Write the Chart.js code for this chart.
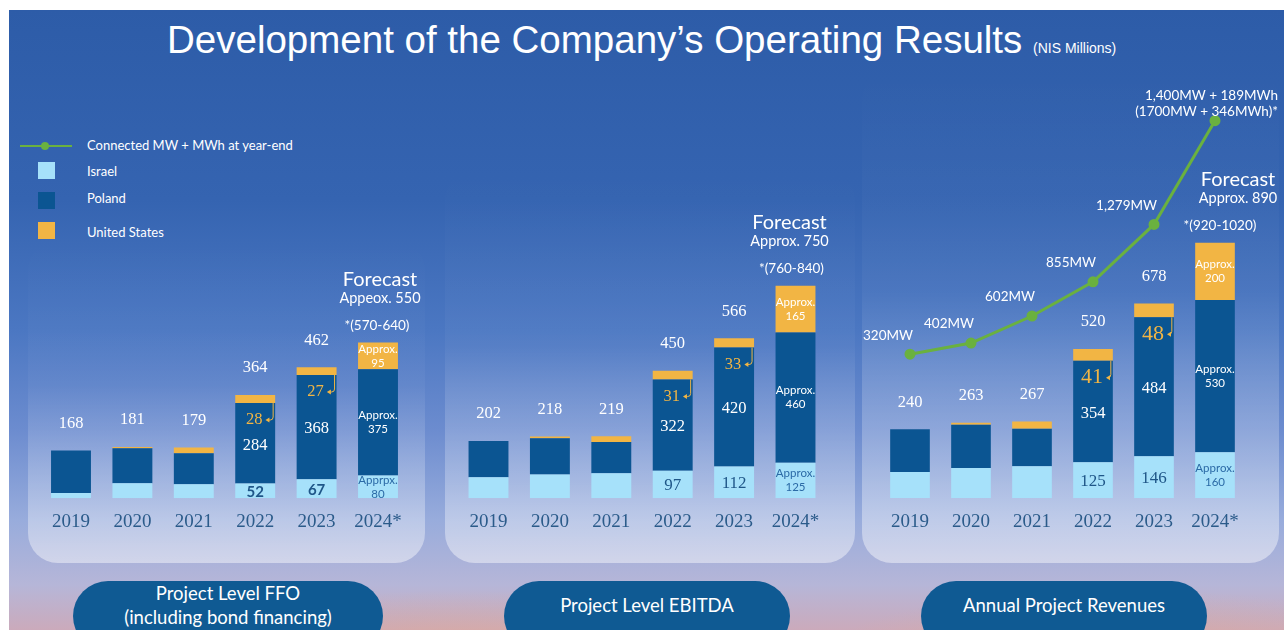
<!DOCTYPE html>
<html>
<head>
<meta charset="utf-8">
<script src="https://cdn.jsdelivr.net/npm/chart.js@4.4.1/dist/chart.umd.min.js"></script>
<style>
  html, body { margin: 0; padding: 0; background: #fff; }
  #stage { position: relative; width: 1284px; height: 630px; overflow: hidden; background: #fff; font-family: Lato, "Open Sans", sans-serif; }
  #sky {
    position: absolute; left: 9px; top: 10px; width: 1275px; height: 620px;
    background:
      radial-gradient(ellipse 260px 60px at 450px 640px, rgba(235,170,130,0.45), rgba(235,170,130,0)),
      radial-gradient(ellipse 300px 60px at 1120px 640px, rgba(235,170,130,0.40), rgba(235,170,130,0)),
      linear-gradient(to bottom, #2d5ca8 0px, #3564b1 190px, #4b77c2 320px, #6c8ccf 420px, #98acdc 510px, #b6b6d8 575px, #cbaabb 620px);
  }
  .panel {
    position: absolute; border-radius: 30px;
    background: linear-gradient(to bottom, rgba(255,255,255,0) 0%, rgba(255,255,255,0.04) 45%, rgba(255,255,255,0.28) 80%, rgba(255,255,255,0.45) 100%);
  }
  #title { position: absolute; left: 167px; top: 18px; color: #fff; font-family: "Liberation Sans", Arial, sans-serif; font-size: 38.5px; white-space: nowrap; }
  #title small { font-size: 14px; }
  .legtxt { position: absolute; left: 87px; color: #fff; font-size: 13px; white-space: nowrap; }
  .legbox { position: absolute; left: 38px; width: 17px; height: 17px; }
  .pill {
    position: absolute; top: 581px; height: 70px; border-radius: 35px; background: #0f5a93;
    color: #fff; font-size: 18.5px; text-align: center; line-height: 24px; box-sizing: border-box;
  }
  .chartbox { position: absolute; top: 60px; height: 490px; }
</style>
</head>
<body>
<div id="stage">
  <div id="sky"></div>
  <div class="panel" style="left:28px; top:240px; width:397px; height:323px;"></div>
  <div class="panel" style="left:445px; top:170px; width:410px; height:393px;"></div>
  <div class="panel" style="left:862px; top:70px; width:417px; height:493px;"></div>

  <div id="title">Development of the Company’s Operating Results <small>(NIS Millions)</small></div>

  <svg style="position:absolute; left:18px; top:140px;" width="56" height="12">
    <line x1="2" y1="6" x2="54" y2="6" stroke="#6ab13f" stroke-width="2"/>
    <circle cx="27" cy="6" r="4" fill="#6ab13f"/>
  </svg>
  <div class="legtxt" style="top:137px;">Connected MW + MWh at year-end</div>
  <div class="legbox" style="top:162px; background:#a6e1fa;"></div>
  <div class="legtxt" style="top:163px;">Israel</div>
  <div class="legbox" style="top:192px; background:#0b5592;"></div>
  <div class="legtxt" style="top:190px;">Poland</div>
  <div class="legbox" style="top:222px; background:#f2b544;"></div>
  <div class="legtxt" style="top:224px;">United States</div>

  <div class="chartbox" style="left:0px; width:440px;"><canvas id="ffo" width="440" height="490"></canvas></div>
  <div class="chartbox" style="left:440px; width:420px;"><canvas id="ebitda" width="420" height="490"></canvas></div>
  <div class="chartbox" style="left:850px; width:434px;"><canvas id="rev" width="434" height="490"></canvas></div>

  <div class="pill" style="left:73px; width:310px; padding-top:0px;">Project Level FFO<br>(including bond financing)</div>
  <div class="pill" style="left:504px; width:286px; padding-top:12px;">Project Level EBITDA</div>
  <div class="pill" style="left:921px; width:286px; padding-top:12px;">Annual Project Revenues</div>
</div>

<script>
const years = ['2019', '2020', '2021', '2022', '2023', '2024*'];

// Project Level FFO
const ffoIsrael = [18, 53, 49, 52, 67, 80];
const ffoPoland = [150, 123, 110, 284, 368, 375];
const ffoUS = [0, 5, 20, 28, 27, 95];
const ffoTotals = ['168', '181', '179', '364', '462', null];
const ffoIsraelLabels = [null, null, null, '52', '67', 'Apprpx.\n80'];
const ffoPolandLabels = [null, null, null, '284', '368', 'Approx.\n375'];
const ffoUSLabels = [null, null, null, '28', '27', 'Approx.\n95'];
const ffoForecast = ['Forecast', 'Appeox. 550', '*(570-640)'];

// Project Level EBITDA
const ebitdaIsrael = [74, 84, 88, 97, 112, 125];
const ebitdaPoland = [128, 128, 110, 322, 420, 460];
const ebitdaUS = [0, 6, 21, 31, 33, 165];
const ebitdaTotals = ['202', '218', '219', '450', '566', null];
const ebitdaIsraelLabels = [null, null, null, '97', '112', 'Approx.\n125'];
const ebitdaPolandLabels = [null, null, null, '322', '420', 'Approx.\n460'];
const ebitdaUSLabels = [null, null, null, '31', '33', 'Approx.\n165'];
const ebitdaForecast = ['Forecast', 'Approx. 750', '*(760-840)'];

// Annual Project Revenues
const revIsrael = [91, 105, 111, 125, 146, 160];
const revPoland = [149, 151, 131, 354, 484, 530];
const revUS = [0, 7, 25, 41, 48, 200];
const revTotals = ['240', '263', '267', '520', '678', null];
const revIsraelLabels = [null, null, null, '125', '146', 'Approx.\n160'];
const revPolandLabels = [null, null, null, '354', '484', 'Approx.\n530'];
const revUSLabels = [null, null, null, '41', '48', 'Approx.\n200'];
const revForecast = ['Forecast', 'Approx. 890', '*(920-1020)'];

// Connected MW + MWh at year-end
const connected = [320, 402, 602, 855, 1279, 2046];
const connectedLabels = ['320MW', '402MW', '602MW', '855MW', '1,279MW', '1,400MW + 189MWh\n(1700MW + 346MWh)*'];

const LIGHT = '#a6e1fa', DARK = '#0b5592', ORANGE = '#f2b544', GREEN = '#6ab13f';
const SERIF = '"Liberation Serif", "Times New Roman", serif';
const SANS = 'Lato, "Open Sans", sans-serif';

function multi(ctx, text, x, y, lh) {
  const lines = text.split('\n');
  lines.forEach((ln, k) => ctx.fillText(ln, x, y + (k - (lines.length - 1) / 2) * lh));
}

const barLabels = {
  id: 'barLabels',
  afterDatasetsDraw(chart, args, o) {
    const ctx = chart.ctx;
    const mI = chart.getDatasetMeta(0), mP = chart.getDatasetMeta(1), mU = chart.getDatasetMeta(2);
    ctx.save();
    ctx.textAlign = 'center';
    ctx.textBaseline = 'middle';
    mI.data.forEach((bI, i) => {
      const bP = mP.data[i], bU = mU.data[i];
      const x = bI.x;
      const top = Math.min(bU.y, bU.base);
      if (o.totals[i]) {
        ctx.font = '16.5px ' + SERIF; ctx.fillStyle = '#fff';
        ctx.fillText(o.totals[i], x, top - 27);
      }
      const li = o.israel[i];
      if (li) {
        const cy = (bI.y + bI.base) / 2;
        if (li.includes('\n')) { ctx.font = '11.5px ' + SANS; ctx.fillStyle = '#2b6aa6'; multi(ctx, li, x, cy, 14); }
        else { ctx.font = o.israelFont; ctx.fillStyle = '#1f5688'; ctx.fillText(li, x, cy + 1); }
      }
      const lp = o.poland[i];
      if (lp) {
        const cy = (bP.y + bP.base) / 2;
        if (lp.includes('\n')) { ctx.font = '11.5px ' + SANS; ctx.fillStyle = '#fff'; multi(ctx, lp, x, cy, 14); }
        else { ctx.font = '16.5px ' + SERIF; ctx.fillStyle = '#fff'; ctx.fillText(lp, x, cy + 2); }
      }
      const lu = o.us[i];
      if (lu) {
        if (lu.includes('\n')) {
          ctx.font = '11.5px ' + SANS; ctx.fillStyle = '#fff';
          multi(ctx, lu, x, (bU.y + bU.base) / 2, 14);
        } else {
          const yP = bP.y;
          const ly = yP + 17;
          const tx = x - 1;
          ctx.font = o.usFont; ctx.fillStyle = ORANGE;
          ctx.fillText(lu, tx, ly);
          const w = ctx.measureText(lu).width;
          const rx = x + bI.width / 2 - 2;
          const ax = tx + w / 2 + 3;
          ctx.strokeStyle = ORANGE; ctx.lineWidth = 1;
          ctx.beginPath();
          ctx.moveTo(rx, yP); ctx.lineTo(rx, ly - 3);
          ctx.quadraticCurveTo(rx, ly, rx - 3, ly);
          ctx.lineTo(ax + 3, ly);
          ctx.stroke();
          ctx.beginPath();
          ctx.moveTo(ax, ly); ctx.lineTo(ax + 4, ly - 2.5); ctx.lineTo(ax + 4, ly + 2.5); ctx.closePath();
          ctx.fill();
        }
      }
    });
    // forecast block over the last bar
    const last = mI.data.length - 1;
    const fx = mI.data[last].x + o.forecastShift[0];
    const ftop = Math.min(mU.data[last].y, mU.data[last].base);
    ctx.fillStyle = '#fff';
    ctx.font = '20px ' + SANS; ctx.fillText(o.forecast[0], fx, ftop - 63);
    ctx.font = '14.5px ' + SANS; ctx.fillText(o.forecast[1], fx, ftop - 44);
    ctx.font = '13.5px ' + SANS; ctx.fillText(o.forecast[2], mI.data[last].x + o.forecastShift[1], ftop - 17);
    // connected capacity labels
    if (o.lineLabels) {
      const mL = chart.getDatasetMeta(3);
      ctx.font = '13.5px ' + SANS; ctx.fillStyle = '#fff'; ctx.textAlign = 'right';
      mL.data.forEach((pt, i) => {
        const t = o.lineLabels[i];
        if (i < mL.data.length - 1) ctx.fillText(t, pt.x + 3, pt.y - 19);
        else multi(ctx, t, pt.x + 63, pt.y - 17, 16);
      });
    }
    ctx.restore();
  }
};

function makeChart(id, d) {
  const datasets = [
    { label: 'Israel', data: d.israel, backgroundColor: LIGHT, stack: 's', order: 1 },
    { label: 'Poland', data: d.poland, backgroundColor: DARK, stack: 's', order: 1 },
    { label: 'United States', data: d.us, backgroundColor: ORANGE, stack: 's', order: 1 }
  ];
  const scales = {
    x: {
      stacked: true,
      grid: { display: false, drawTicks: false },
      border: { display: false },
      ticks: { color: '#2b5b8a', font: { family: SERIF, size: 19 }, padding: 12 }
    },
    y: { stacked: true, display: false, min: 0, max: d.yMax }
  };
  if (d.line) {
    datasets.push({
      type: 'line', label: 'Connected MW + MWh at year-end', data: d.line, yAxisID: 'y1', order: 0,
      borderColor: GREEN, backgroundColor: GREEN, borderWidth: 3, pointRadius: 4, pointHoverRadius: 4, tension: 0
    });
    scales.y1 = { display: false, min: -745, max: 2199 };
  }
  return new Chart(document.getElementById(id), {
    type: 'bar',
    data: { labels: years, datasets: datasets },
    options: {
      responsive: false,
      animation: false,
      devicePixelRatio: 1,
      layout: { padding: { left: d.pad[0], right: d.pad[1], top: 40, bottom: 5 } },
      datasets: { bar: { categoryPercentage: 1, barPercentage: 0.65 } },
      scales: scales,
      plugins: {
        legend: { display: false },
        tooltip: { enabled: false },
        barLabels: {
          totals: d.totals, israel: d.israelLabels, poland: d.polandLabels, us: d.usLabels,
          forecast: d.forecast, forecastShift: d.forecastShift,
          israelFont: d.israelFont, usFont: d.usFont, lineLabels: d.lineLabels
        }
      }
    },
    plugins: [barLabels]
  });
}

makeChart('ffo', {
  israel: ffoIsrael, poland: ffoPoland, us: ffoUS, totals: ffoTotals,
  israelLabels: ffoIsraelLabels, polandLabels: ffoPolandLabels, usLabels: ffoUSLabels,
  forecast: ffoForecast, forecastShift: [2, -1], yMax: 1406, pad: [40.3, 31.3],
  israelFont: 'bold 15px ' + SANS, usFont: '16.5px ' + SERIF
});
makeChart('ebitda', {
  israel: ebitdaIsrael, poland: ebitdaPoland, us: ebitdaUS, totals: ebitdaTotals,
  israelLabels: ebitdaIsraelLabels, polandLabels: ebitdaPolandLabels, usLabels: ebitdaUSLabels,
  forecast: ebitdaForecast, forecastShift: [-6, -4], yMax: 1406, pad: [17.8, 33.8],
  israelFont: '17px ' + SERIF, usFont: '16.5px ' + SERIF
});
makeChart('rev', {
  israel: revIsrael, poland: revPoland, us: revUS, totals: revTotals,
  israelLabels: revIsraelLabels, polandLabels: revPolandLabels, usLabels: revUSLabels,
  forecast: revForecast, forecastShift: [23, 5], yMax: 1387, pad: [29.5, 38.5],
  israelFont: '17px ' + SERIF, usFont: '22px ' + SERIF,
  line: connected, lineLabels: connectedLabels
});
</script>
</body>
</html>
